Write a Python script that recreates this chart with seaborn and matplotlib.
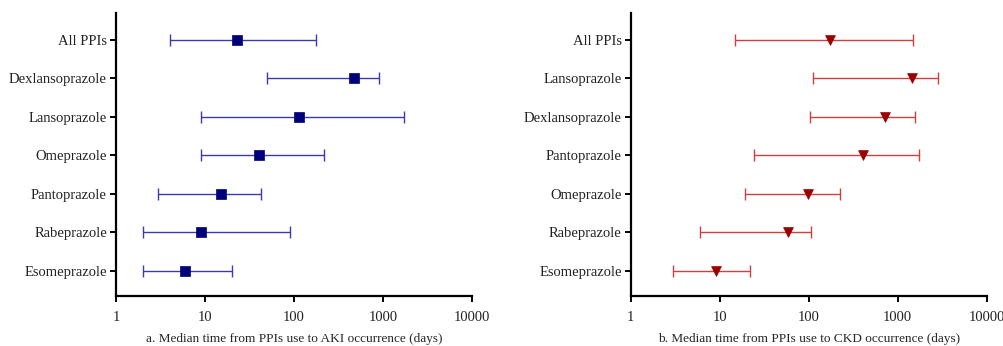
import numpy as np
import pandas as pd
import matplotlib
matplotlib.use("Agg")
import matplotlib.pyplot as plt
import seaborn as sns

# ---- data ----
aki_drugs = ["All PPIs", "Dexlansoprazole", "Lansoprazole", "Omeprazole",
             "Pantoprazole", "Rabeprazole", "Esomeprazole"]
aki_median = [23, 470, 113, 40, 15, 9, 6]
aki_low = [4, 50, 9, 9, 3, 2, 2]
aki_high = [178, 900, 1720, 220, 43, 91, 20]

ckd_drugs = ["All PPIs", "Lansoprazole", "Dexlansoprazole", "Pantoprazole",
             "Omeprazole", "Rabeprazole", "Esomeprazole"]
ckd_median = [174, 1460, 720, 410, 98, 58, 9]
ckd_low = [15, 113, 103, 24.5, 19, 6, 3]
ckd_high = [1500, 2800, 1580, 1740, 226, 106, 22]

x_ticks = [1, 10, 100, 1000, 10000]
x_ticklabels = ["1", "10", "100", "1000", "10000"]
aki_xlabel = "a. Median time from PPIs use to AKI occurrence (days)"
ckd_xlabel = "b. Median time from PPIs use to CKD occurrence (days)"

sns.set_theme(style="ticks")
plt.rcParams["font.family"] = ["Liberation Serif", "DejaVu Serif"]

fig = plt.figure(figsize=(10.04, 3.46), dpi=100)
ax1 = fig.add_axes([0.1155, 0.1445, 0.3546, 0.818])
ax2 = fig.add_axes([0.6282, 0.1445, 0.3546, 0.818])


def panel(ax, drugs, med, lo, hi, line_color, mark_color, marker, msize, xlabel):
    df = pd.DataFrame({"drug": drugs, "median": med, "low": lo, "high": hi})
    df["pos"] = np.arange(len(df))
    xerr = np.vstack([df["median"] - df["low"], df["high"] - df["median"]])
    ax.errorbar(df["median"], df["pos"], xerr=xerr, fmt="none",
                ecolor=line_color, elinewidth=1.0, capsize=4, capthick=1.0,
                zorder=2)
    sns.scatterplot(data=df, x="median", y="pos", ax=ax, marker=marker,
                    s=msize, color=mark_color, edgecolor=mark_color,
                    linewidth=0.5, zorder=3, legend=False)
    ax.set_xscale("log")
    ax.set_xlim(1, 10000)
    ax.set_xticks(x_ticks)
    ax.set_xticklabels(x_ticklabels)
    ax.xaxis.set_minor_locator(matplotlib.ticker.NullLocator())
    ax.set_ylim(6.65, -0.7)
    ax.set_yticks(df["pos"])
    ax.set_yticklabels(df["drug"])
    ax.set_ylabel("")
    ax.set_xlabel(xlabel, fontsize=9.5, labelpad=7)
    for s in ["top", "right"]:
        ax.spines[s].set_visible(False)
    for s in ["left", "bottom"]:
        ax.spines[s].set_linewidth(1.6)
        ax.spines[s].set_color("black")
    ax.tick_params(axis="both", which="major", length=4.5, width=1.4,
                   color="black", labelsize=10.5, labelcolor="#222222")
    ax.tick_params(axis="x", pad=6)
    ax.tick_params(axis="y", pad=2)
    ax.set_facecolor("white")


panel(ax1, aki_drugs, aki_median, aki_low, aki_high,
      "#3a3ab0", "#00007a", "s", 45, aki_xlabel)
panel(ax2, ckd_drugs, ckd_median, ckd_low, ckd_high,
      "#cc4040", "#9a0000", "v", 50, ckd_xlabel)

fig.savefig("out.png", dpi=100, facecolor="white")
